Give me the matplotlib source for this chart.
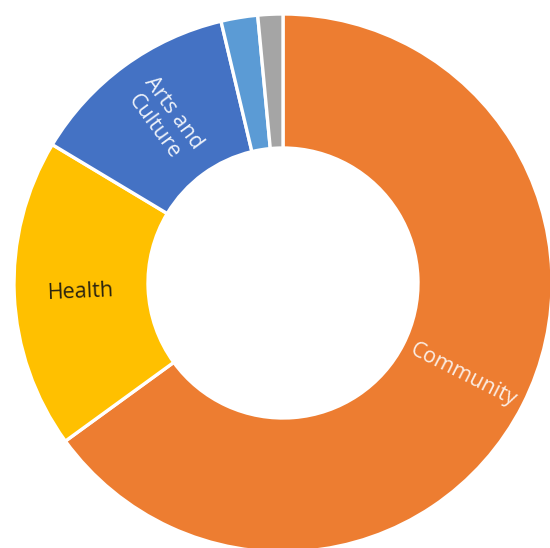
import numpy as np
import matplotlib
matplotlib.use("Agg")
import matplotlib.pyplot as plt

# share of each category (percent), clockwise from 12 o'clock
categories = ["Community", "Health", "Arts and\nCulture", "", ""]
shares = [65.0, 18.6, 12.7, 2.2, 1.5]
colours = ["#ED7D31", "#FFC000", "#4472C4", "#5B9BD5", "#A5A5A5"]
label_colours = ["#FBEDE4", "#2B2410", "#EEF2FA", "white", "white"]

plt.rcParams['font.family'] = ['Open Sans', 'DejaVu Sans']

fig = plt.figure(figsize=(5.5, 5.48), dpi=100)
ax = fig.add_axes([0, 0, 1, 1])

outer = 269
inner = 135
wedges, texts = ax.pie(shares, labels=categories, colors=colours,
                       startangle=90, counterclock=False,
                       center=(283, 265), radius=outer,
                       labeldistance=(outer + inner) / 2 / outer,
                       wedgeprops=dict(width=outer - inner, edgecolor="white", linewidth=2.4),
                       textprops=dict(fontsize=15.5))
ax.set_xlim(0, 550)
ax.set_ylim(0, 548)
ax.set_aspect('equal')
ax.axis('off')

# radial labels like the original
for w, t, c in zip(wedges, texts, label_colours):
    mid = (w.theta1 + w.theta2) / 2
    rot = mid
    if 90 < mid % 360 < 270:
        rot = mid - 180
    t.set_rotation(rot)
    t.set_ha('center')
    t.set_va('center')
    t.set_rotation_mode('anchor')
    t.set_multialignment('center')
    t.set_color(c)
    t.set_linespacing(1.15)

fig.savefig("out.png", dpi=100)
